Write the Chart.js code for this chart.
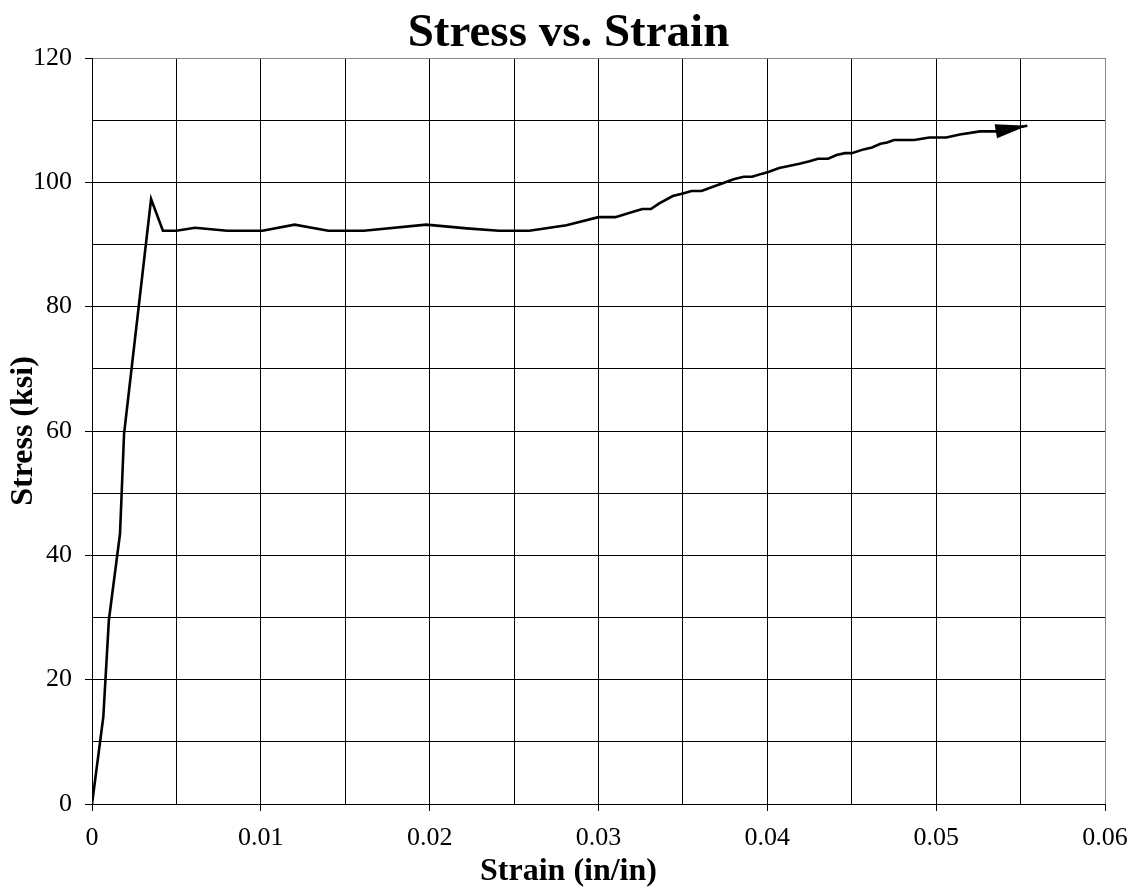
<!DOCTYPE html>
<html>
<head>
<meta charset="utf-8">
<script src="https://cdn.jsdelivr.net/npm/chart.js@4"></script>
<style>
  html, body { margin: 0; padding: 0; background: #fff; }
  #wrap { width: 1137px; height: 890px; }
</style>
</head>
<body>
<div id="wrap"><canvas id="stresschart" width="1137" height="890"></canvas></div>
<script>
// values
const strain = [0, 0.00067, 0.001, 0.00166, 0.0019, 0.0035, 0.0042, 0.005, 0.0061, 0.008,
    0.0101, 0.012, 0.014, 0.0161, 0.0198, 0.0222, 0.0241, 0.0259, 0.0281, 0.0300,
    0.0310, 0.0321, 0.0326, 0.0331, 0.0336, 0.0344, 0.0350, 0.0355, 0.0361, 0.0367,
    0.0376, 0.0380, 0.0386, 0.0391, 0.0397, 0.0401, 0.0407, 0.0412, 0.0419, 0.0425,
    0.0430, 0.0436, 0.0441, 0.0446, 0.0450, 0.0457, 0.0462, 0.0467, 0.0471, 0.0475,
    0.0487, 0.0496, 0.0506, 0.0514, 0.0526, 0.0535, 0.0554];
const stress = [0, 14, 29.6, 43.5, 59.6, 97.3, 92.2, 92.2, 92.7, 92.2,
    92.2, 93.2, 92.2, 92.2, 93.2, 92.6, 92.2, 92.2, 93.1, 94.4,
    94.4, 95.3, 95.7, 95.7, 96.6, 97.8, 98.2, 98.6, 98.6, 99.2,
    100.1, 100.5, 100.9, 100.9, 101.4, 101.7, 102.3, 102.6, 103.0, 103.4,
    103.8, 103.8, 104.4, 104.7, 104.7, 105.3, 105.6, 106.2, 106.4, 106.8,
    106.8, 107.2, 107.2, 107.7, 108.2, 108.2, 109.1];

const xMax = 0.06, xStep = 0.005;
const yMax = 120, yStep = 10;

const serif = "'Liberation Serif', 'Times New Roman', serif";

const points = strain.map((s, i) => ({x: s, y: stress[i]}));

function isMajorX(v) { return Math.round(v * 200) % 2 === 0; }
function isMajorY(v) { return Math.round(v) % 20 === 0; }

// arrow head at the end of the curve
const arrowHead = {
    id: 'arrowHead',
    afterDatasetsDraw(chart) {
        const pts = chart.getDatasetMeta(0).data;
        const tip = pts[pts.length - 1], prev = pts[pts.length - 2];
        const ang = Math.atan2(tip.y - prev.y, tip.x - prev.x);
        const len = 32, half = 7;
        const c = chart.ctx;
        c.save();
        c.translate(tip.x, tip.y);
        c.rotate(ang);
        c.beginPath();
        c.moveTo(0, 0);
        c.lineTo(-len, -half);
        c.lineTo(-len, half);
        c.closePath();
        c.fillStyle = '#000';
        c.fill();
        c.restore();
    }
};

const ctx = document.getElementById('stresschart').getContext('2d');
const myChart = new Chart(ctx, {
    type: 'line',
    data: {
        datasets: [{
            label: 'Stress',
            data: points,
            borderColor: '#000',
            borderWidth: 2.6,
            pointRadius: 0,
            tension: 0,
            fill: false
        }]
    },
    options: {
        responsive: false,
        animation: false,
        layout: { padding: 0 },
        plugins: {
            legend: { display: false },
            tooltip: { enabled: false },
            title: {
                display: true,
                text: 'Stress vs. Strain',
                color: '#000',
                font: { family: serif, size: 47, weight: 'bold', lineHeight: 1 },
                padding: { top: 10, bottom: 1 }
            },
            // x axis title, centred on the page like the original
            subtitle: {
                display: true,
                position: 'bottom',
                text: 'Strain (in/in)',
                color: '#000',
                font: { family: serif, size: 32, weight: 'bold', lineHeight: 1 },
                padding: { top: 4, bottom: 2 }
            }
        },
        scales: {
            x: {
                type: 'linear',
                min: 0,
                max: xMax,
                border: { color: '#000', width: 1 },
                grid: {
                    color: c => (c.tick && Math.abs(c.tick.value - xMax) < 1e-9) ? '#888' : '#000',
                    lineWidth: 1,
                    tickLength: 7,
                    tickColor: c => (c.tick && isMajorX(c.tick.value)) ? '#000' : 'rgba(0,0,0,0)'
                },
                ticks: {
                    stepSize: xStep,
                    autoSkip: false,
                    maxRotation: 0,
                    padding: 14,
                    color: '#000',
                    font: { family: serif, size: 26, lineHeight: 1 },
                    callback: v => isMajorX(v) ? String(+v.toFixed(2)) : ''
                },
                afterFit: s => { s.height = 48; s.paddingLeft = 0; s.paddingRight = 32; }
            },
            y: {
                min: 0,
                max: yMax,
                border: { color: '#000', width: 1 },
                grid: {
                    color: c => (c.tick && c.tick.value === yMax) ? '#888' : '#000',
                    lineWidth: 1,
                    tickLength: 7,
                    tickColor: c => (c.tick && isMajorY(c.tick.value)) ? '#000' : 'rgba(0,0,0,0)'
                },
                ticks: {
                    stepSize: yStep,
                    autoSkip: false,
                    padding: 13,
                    color: '#000',
                    font: { family: serif, size: 26 },
                    callback: v => isMajorY(v) ? String(v) : ''
                },
                title: {
                    display: true,
                    text: 'Stress (ksi)',
                    color: '#000',
                    font: { family: serif, size: 32, weight: 'bold', lineHeight: 1 },
                    padding: { top: 8, bottom: 0 }
                },
                afterFit: s => { s.width = 92; s.paddingTop = 0; s.paddingBottom = 0; }
            }
        }
    },
    plugins: [arrowHead]
});
</script>
</body>
</html>
